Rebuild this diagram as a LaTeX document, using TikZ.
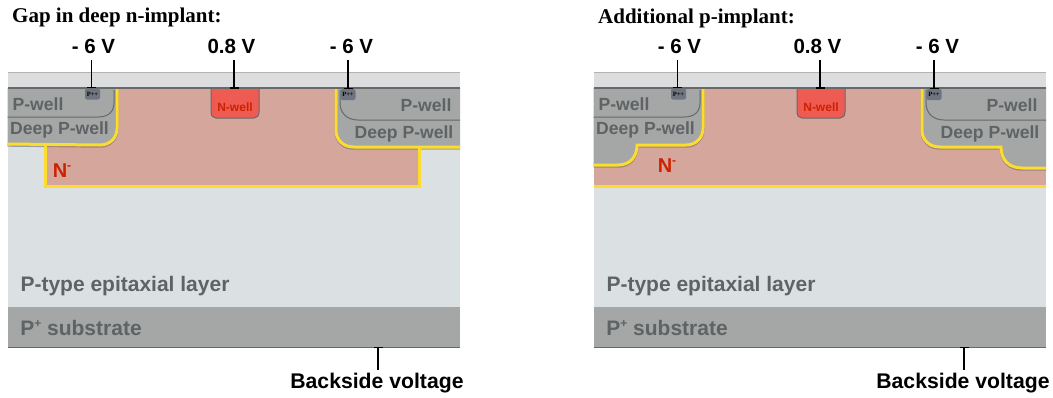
\documentclass[tikz,border=0pt]{standalone}
\usepackage{fontspec}
\setmainfont{Liberation Sans}
\newfontfamily\titlefont{Liberation Serif}
\usetikzlibrary{arrows.meta}
\definecolor{epi}{HTML}{DBE0E3}
\definecolor{strip}{HTML}{DCDDDF}
\definecolor{pinkn}{HTML}{D5A79C}
\definecolor{wellg}{HTML}{A4A7A5}
\definecolor{labg}{HTML}{5F6366}
\definecolor{nwell}{HTML}{EE5B53}
\definecolor{redtxt}{HTML}{CC2200}
\definecolor{contact}{HTML}{6F7580}
\definecolor{yell}{HTML}{FCDC2C}
\definecolor{edgeg}{HTML}{66686A}
\newcommand{\upmark}[1]{\raisebox{.42em}{\fontsize{12}{12}\selectfont #1}}
\tikzset{
  x=1pt,y=-1pt,
  txt/.style={inner sep=0pt,font=\bfseries\fontsize{#1}{#1}\selectfont},
  volt/.style={txt=20.5,text=black},
  backvolt/.style={txt=21.2,text=black},
  lab/.style={txt=17.6,text=labg},
  biglab/.style={txt=21,text=labg},
  heading/.style={inner sep=0pt,anchor=west,font=\titlefont\bfseries\fontsize{21}{22}\selectfont},
  yline/.style={draw=yell,line width=3pt},
  yshade/.style={yline,preaction={draw=edgeg,draw opacity=.55,line width=3pt,transform canvas={yshift=-1.2pt}}},
  shade/.style={draw=edgeg,line width=1pt},
  wire/.style={draw=black,line width=1.3pt,-{Bar[width=9pt,length=1.3pt]}},
  pcontact/.style={fill=contact,rounded corners=2pt,minimum width=15pt,minimum height=11pt,inner sep=0pt,font=\titlefont\bfseries\fontsize{6.5}{6.5}\selectfont},
  pics/base/.style={code={
    \fill[epi] (7.5,72) rectangle (460,307);
    \fill[wellg] (7.5,307) rectangle (460,347);
    \draw[edgeg,line width=.8pt] (7.5,347) -- (460,347);
    \coordinate (-back) at (378,347);
    \node[biglab] (-epilab) at (125,286) {P-type epitaxial layer};
    \node[biglab] (-sublab) at (81,328) {P\upmark{+} substrate};
    \node[backvolt] (-backlab) at (377,383) {Backside voltage};
    \draw[wire] ([yshift=3pt]-backlab.north -| -back) -- (-back);
  }},
  pics/top/.style={code={
    \fill[strip] (7.5,72) rectangle (460,88);
    \draw[gray!60,line width=.5pt] (7.5,72) -- (460,72);
    % P-wells
    \draw[shade] (7.5,117) -- (98,117) .. controls (108,117) and (114,112) .. (114,103) -- (114,90);
    \draw[shade] (340,90) -- (340,103) .. controls (340,113) and (347,120) .. (358,120) -- (460,120);
    % N-well
    \draw[draw=edgeg,line width=1pt,fill=nwell] (211,88) -- (211,112) .. controls (211,116) and (213,118) .. (216,118) -- (254,118) .. controls (257,118) and (259,116) .. (259,112) -- (259,88);
    \fill[edgeg] (7.5,87.3) rectangle (460,88.7);
    \node[txt=12,text=redtxt] (-nlab) at (235,107.5) {N-well};
    \coordinate (-ntop) at (234,88.6);
    % contacts
    \node[pcontact] (-c1) at (92.5,94) {P++};
    \node[pcontact] (-c2) at (348,94.5) {P++};
    % labels
    \node[lab] (-pl) at (38,104) {P-well};
    \node[lab] (-dl) at (59.5,130) {Deep P-well};
    \node[lab] (-pr) at (426,105) {P-well};
    \node[lab] (-dr) at (404,134) {Deep P-well};
    \node[volt] (-v1) at (93.5,46) {- 6 V};
    \node[volt] (-v2) at (231.5,46) {0.8 V};
    \node[volt] (-v3) at (351.5,46) {- 6 V};
    \draw[wire] ([xshift=-1pt,yshift=-6.5pt]-v1.south -| -c1.north) -- ([xshift=-1pt]-c1.north);
    \draw[wire] ([yshift=-6.5pt]-v2.south -| -ntop) -- (-ntop);
    \draw[wire] ([yshift=-6.5pt]-v3.south -| -c2.north) -- (-c2.north);
  }}
}
\begin{document}
\begin{tikzpicture}
\useasboundingbox (0,0) rectangle (1053,397);
\fill[white] (0,0) rectangle (1053,397);
% ---------- left panel
\pic (a) at (0,0) {base};
\fill[pinkn] (90,88) -- (360,88) -- (360,147) -- (419,147) -- (419,186) -- (45,186) -- (45,145) -- (90,145) -- cycle;
\fill[wellg] (7.5,88) -- (117,88) -- (117,128) .. controls (117,138) and (110,145) .. (100,145) -- (7.5,144) -- cycle;
\fill[wellg] (460,88) -- (336,88) -- (336,130) .. controls (336,140) and (343,147) .. (354,147) -- (460,147) -- cycle;
\draw[yshade] (7.5,144) -- (100,145) .. controls (110,145) and (117,138) .. (117,128) -- (117,88);
\draw[yshade] (336,88) -- (336,130) .. controls (336,140) and (343,147) .. (354,147) -- (460,147);
\draw[yline] (45,146) -- (45,186) -- (419,186) -- (419,148);
\node[txt=20,text=redtxt] (an) at (62,171) {N\upmark{-}};
\pic (at) at (0,0) {top};
\node[heading] (ah) at (12,17) {Gap in deep n-implant:};
% ---------- right panel
\begin{scope}[xshift=586pt]
\pic (b) at (0,0) {base};
\fill[pinkn] (7.5,88) rectangle (460,186);
\fill[wellg] (7.5,88) -- (117,88) -- (117,128) .. controls (117,138) and (110,145) .. (100,145) -- (51,145) .. controls (51,157) and (44,165) .. (32,165) -- (7.5,165) -- cycle;
\fill[wellg] (460,88) -- (336,88) -- (336,130) .. controls (336,140) and (343,147) .. (354,147) -- (415,147) .. controls (415,160) and (423,168) .. (436,168) -- (460,168) -- cycle;
\draw[yshade] (7.5,165) -- (32,165) .. controls (44,165) and (51,157) .. (51,145) -- (100,145) .. controls (110,145) and (117,138) .. (117,128) -- (117,88);
\draw[yshade] (336,88) -- (336,130) .. controls (336,140) and (343,147) .. (354,147) -- (415,147) .. controls (415,160) and (423,168) .. (436,168) -- (460,168);
\draw[yline] (7.5,186) -- (460,186);
\node[txt=20,text=redtxt] (bn) at (81,166) {N\upmark{-}};
\pic (bt) at (0,0) {top};
\node[heading] (bh) at (12,18) {Additional p-implant:};
\end{scope}
\end{tikzpicture}
\end{document}
